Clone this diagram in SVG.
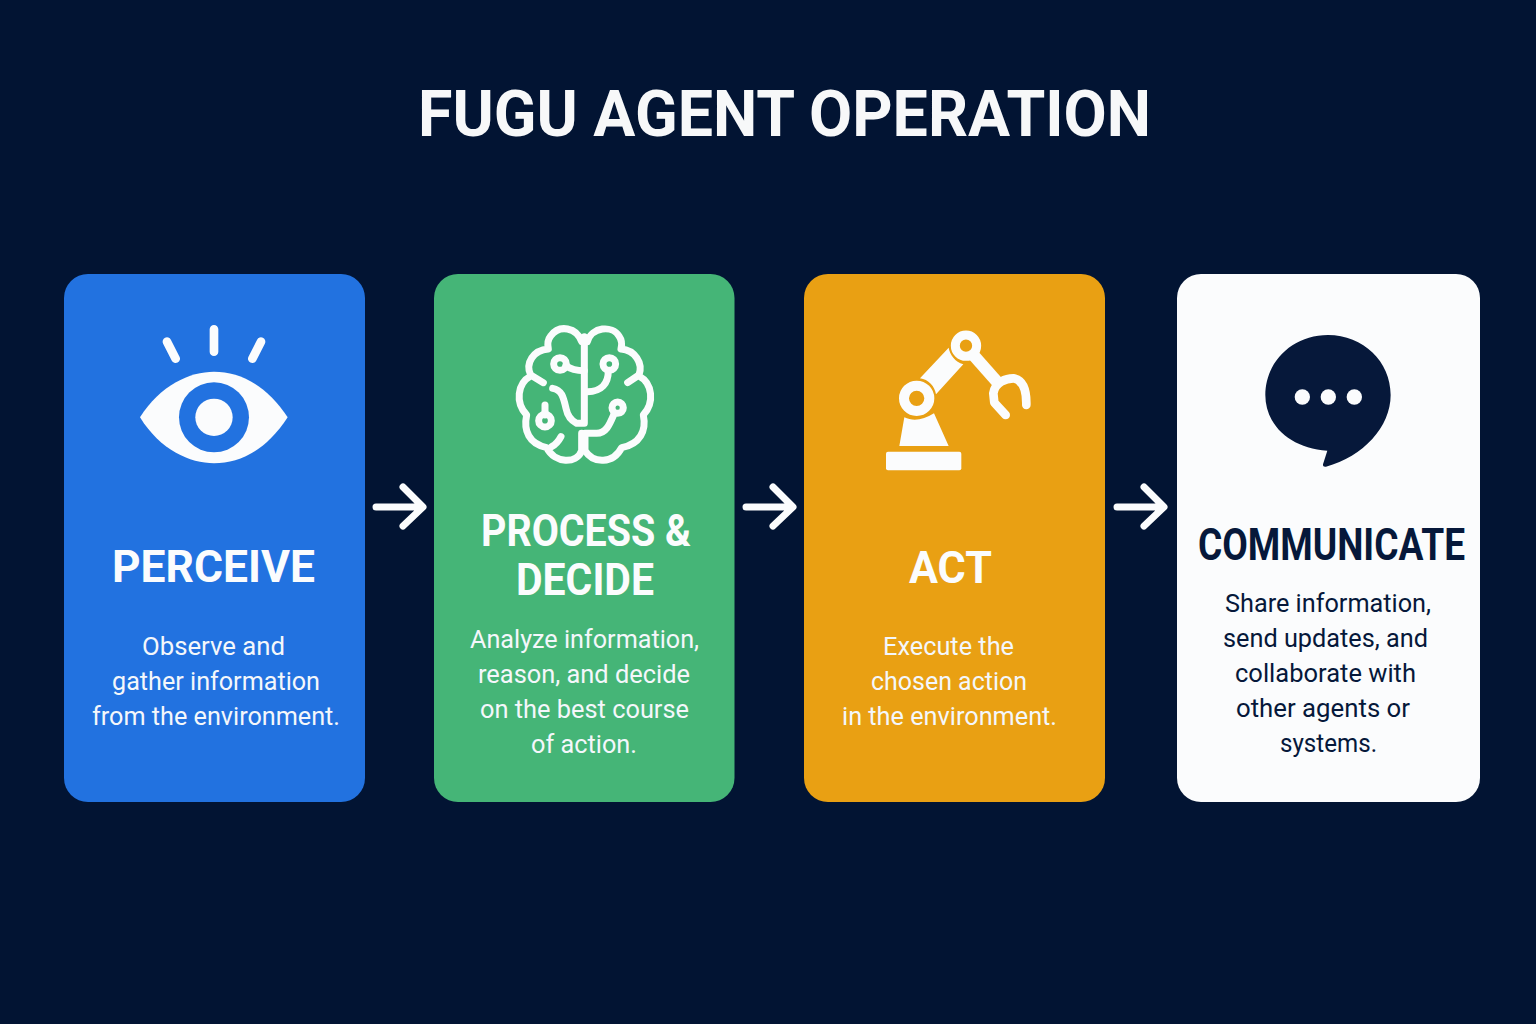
<svg xmlns="http://www.w3.org/2000/svg" width="1536" height="1024" viewBox="0 0 1536 1024">
<style>
text{font-family:Roboto,"Liberation Sans",sans-serif;text-anchor:middle}
.title{font-size:64px;font-weight:700;fill:#f7f8f9}
.h{font-size:45px;font-weight:700;fill:#fbfcfd}
.b{font-size:26.5px;font-weight:400;fill:#f4f7fb}
.dk{fill:#06183a}
.ln{fill:none;stroke:#fbfcfd;stroke-width:21;stroke-linecap:round;stroke-linejoin:round}
.arr{fill:none;stroke:#fbfcfd;stroke-width:7;stroke-linecap:round;stroke-linejoin:round}
</style>
<rect width="1536" height="1024" fill="#021433"/>
<text class="title" x="784.5" y="136" textLength="733" lengthAdjust="spacingAndGlyphs" id="title">FUGU AGENT OPERATION</text>
<g id="connectors">
<path class="arr" d="M376,507H422M403,487L423,507L403,526"/>
<path class="arr" d="M746,507H792M773,487L793,507L773,526"/>
<path class="arr" d="M1117,507H1163M1144,487L1164,507L1144,526"/>
</g>
<g id="perceive">
<rect x="64" y="274" width="301" height="528" rx="24" fill="#2272e0"/>
<g transform="translate(110,310) scale(.3333)">
<path d="M90,322C150,225 240,185 312,185C390,185 470,225 533,322C470,420 390,460 312,460C240,460 150,420 90,322Z" fill="#fbfcfd"/>
<circle cx="312" cy="322" r="105" fill="#2272e0"/>
<circle cx="312" cy="322" r="56" fill="#fbfcfd"/>
<path d="M171,95L197,146M312,58V125M453,95L427,146" stroke="#fbfcfd" stroke-width="26" stroke-linecap="round" fill="none"/>
</g>
<text class="h" x="213.500" y="582" textLength="203" lengthAdjust="spacingAndGlyphs">PERCEIVE</text>
<text class="b" x="213.500" y="654.500" textLength="143" lengthAdjust="spacingAndGlyphs">Observe and</text>
<text class="b" x="216" y="689.500" textLength="208" lengthAdjust="spacingAndGlyphs">gather information</text>
<text class="b" x="216" y="724.500" textLength="248" lengthAdjust="spacingAndGlyphs">from the environment.</text>
</g>
<g id="process">
<rect x="434" y="274" width="300.500" height="528" rx="24" fill="#45b577"/>
<g transform="translate(480,300) scale(.3333)" class="ln">
<path d="M305,125C290,82 238,72 212,108C202,120 202,132 205,147C160,150 135,190 152,225L190,248M152,228C112,250 105,308 140,345C130,392 147,432 200,443C225,492 290,492 305,452V400"/>
<path d="M322,125C335,80 397,75 417,108C427,122 427,132 423,147C465,150 490,190 477,225L443,248M477,228C518,250 524,308 490,345C500,392 480,432 425,443C400,492 340,492 315,452V400H350C380,400 390,370 403,340"/>
<path d="M313,110V370H290C270,360 262,345 258,325C250,290 245,270 218,265"/>
<path d="M215,440C225,435 235,425 243,410"/>
<circle cx="240" cy="192" r="19"/><path d="M258,197C275,210 290,212 313,212"/>
<circle cx="388" cy="192" r="19"/><path d="M385,212C385,250 365,275 322,275"/>
<circle cx="413" cy="323" r="17"/>
<circle cx="195" cy="362" r="19"/><path d="M195,345V315"/>
</g>
<text class="h" x="586" y="545.500" textLength="210" lengthAdjust="spacingAndGlyphs">PROCESS &amp;</text>
<text class="h" x="585" y="594.500" textLength="138" lengthAdjust="spacingAndGlyphs">DECIDE</text>
<text class="b" x="584.500" y="648" textLength="229" lengthAdjust="spacingAndGlyphs">Analyze information,</text>
<text class="b" x="584" y="683" textLength="212" lengthAdjust="spacingAndGlyphs">reason, and decide</text>
<text class="b" x="584.500" y="718" textLength="209" lengthAdjust="spacingAndGlyphs">on the best course</text>
<text class="b" x="584" y="752.500" textLength="106" lengthAdjust="spacingAndGlyphs">of action.</text>
</g>
<g id="act">
<rect x="804" y="274" width="301" height="528" rx="24" fill="#e9a013"/>
<g transform="translate(860,310) scale(.3333)" fill="#fbfcfd">
<rect x="78" y="425" width="226" height="56" rx="6"/>
<path d="M133,322C160,335 190,330 222,310L266,408H118Z"/>
<path d="M180,205L266,113C270,135 285,155 310,163L228,253C225,230 205,208 180,205Z"/>
<circle cx="170" cy="265" r="38" fill="none" stroke="#fbfcfd" stroke-width="30"/>
<circle cx="318" cy="107" r="32" fill="none" stroke="#fbfcfd" stroke-width="27"/>
<path d="M340,135L415,220" stroke="#fbfcfd" stroke-width="36" fill="none"/>
<path d="M437,315L403,278L400,250C405,215 440,205 460,205C490,210 500,240 499,285" fill="none" stroke="#fbfcfd" stroke-width="26" stroke-linecap="round" stroke-linejoin="round"/>
</g>
<text class="h" x="950.500" y="582.500" textLength="83" lengthAdjust="spacingAndGlyphs">ACT</text>
<text class="b" x="948.500" y="654.500" textLength="131" lengthAdjust="spacingAndGlyphs">Execute the</text>
<text class="b" x="949" y="689.500" textLength="156" lengthAdjust="spacingAndGlyphs">chosen action</text>
<text class="b" x="949.500" y="724.500" textLength="215" lengthAdjust="spacingAndGlyphs">in the environment.</text>
</g>
<g id="communicate">
<rect x="1177" y="274" width="303" height="528" rx="24" fill="#fbfcfd"/>
<g transform="translate(1240,320) scale(.3333)">
<path d="M264,45C370,45 452,125 452,225C452,320 370,410 258,440C250,442 247,436 250,430L262,392C150,385 76,315 76,225C76,125 158,45 264,45Z" fill="#06183a"/>
<circle cx="187" cy="231" r="23" fill="#fbfcfd"/><circle cx="265" cy="231" r="23" fill="#fbfcfd"/><circle cx="343" cy="231" r="23" fill="#fbfcfd"/>
</g>
<text class="h dk" x="1331.500" y="559.500" textLength="267" lengthAdjust="spacingAndGlyphs">COMMUNICATE</text>
<text class="b dk" x="1328" y="612" textLength="206" lengthAdjust="spacingAndGlyphs">Share information,</text>
<text class="b dk" x="1325.500" y="647" textLength="205" lengthAdjust="spacingAndGlyphs">send updates, and</text>
<text class="b dk" x="1325.500" y="682" textLength="181" lengthAdjust="spacingAndGlyphs">collaborate with</text>
<text class="b dk" x="1323" y="717" textLength="174" lengthAdjust="spacingAndGlyphs">other agents or</text>
<text class="b dk" x="1328.500" y="752" textLength="97" lengthAdjust="spacingAndGlyphs">systems.</text>
</g>
</svg>
